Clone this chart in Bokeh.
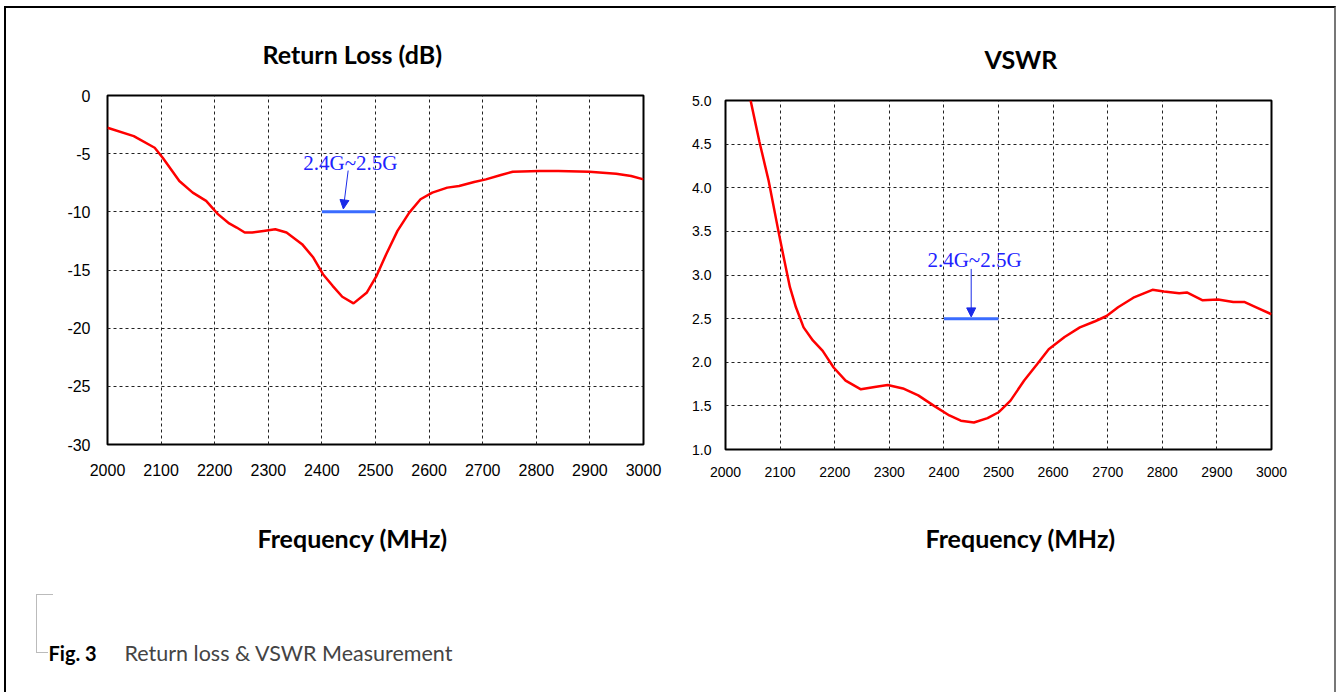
from bokeh.plotting import figure
from bokeh.layouts import row, column
from bokeh.models import Range1d, Title, Arrow, NormalHead, FixedTicker, PrintfTickFormatter
from bokeh.core.properties import value
from bokeh.embed import file_html
from bokeh.resources import INLINE

# ---------------- data ----------------
x_ticks = [2000, 2100, 2200, 2300, 2400, 2500, 2600, 2700, 2800, 2900, 3000]
rl_ticks = [0, -5, -10, -15, -20, -25, -30]
vswr_ticks = [1.0, 1.5, 2.0, 2.5, 3.0, 3.5, 4.0, 4.5, 5.0]

rl_freq = [2000, 2049, 2088, 2103, 2134, 2159, 2184, 2206, 2227, 2241, 2256, 2270, 2291,
           2313, 2334, 2363, 2384, 2402, 2420, 2438, 2459, 2484, 2502, 2520, 2541, 2563,
           2584, 2606, 2634, 2656, 2684, 2706, 2734, 2756, 2806, 2841, 2899, 2949, 2977, 3000]
rl_db = [-2.77, -3.49, -4.49, -5.35, -7.35, -8.35, -9.06, -10.2, -11.0, -11.35, -11.78, -11.78, -11.64,
         -11.5, -11.78, -12.78, -13.93, -15.36, -16.36, -17.3, -17.87, -16.93, -15.5, -13.64, -11.64, -10.07,
         -8.92, -8.35, -7.92, -7.78, -7.43, -7.21, -6.83, -6.55, -6.49, -6.49, -6.55, -6.72, -6.92, -7.21]

vswr_freq = [2046, 2062, 2079, 2097, 2108, 2118, 2129, 2143, 2160, 2178, 2198, 2220, 2248, 2276,
             2297, 2325, 2353, 2382, 2410, 2431, 2455, 2480, 2501, 2522, 2547, 2571, 2592, 2621,
             2649, 2677, 2698, 2719, 2747, 2782, 2803, 2831, 2845, 2874, 2902, 2930, 2951, 2972, 3000]
vswr_val = [5.0, 4.53, 4.08, 3.5, 3.16, 2.86, 2.63, 2.40, 2.25, 2.13, 1.94, 1.79, 1.69, 1.72,
            1.74, 1.70, 1.62, 1.50, 1.39, 1.33, 1.31, 1.36, 1.43, 1.56, 1.79, 1.98, 2.15, 2.29,
            2.40, 2.47, 2.53, 2.63, 2.74, 2.83, 2.81, 2.79, 2.80, 2.71, 2.72, 2.69, 2.69, 2.63, 2.55]

band = [2400, 2500]
band_label = "2.4G~2.5G"
rl_band_level = -10
vswr_band_level = 2.5

TITLE_FONT = "Lato"
TICK_FONT = "Liberation Sans"
SERIF = "Liberation Serif"


def style_plot(p, tick_size, ystand, xstand):
    p.background_fill_color = "white"
    p.border_fill_color = "white"
    p.outline_line_color = "black"
    p.outline_line_width = 2
    for ax in (p.xaxis[0], p.yaxis[0]):
        ax.axis_line_color = None
        ax.major_tick_line_color = None
        ax.minor_tick_line_color = None
        ax.major_tick_out = 0
        ax.major_tick_in = 0
        ax.minor_tick_out = 0
        ax.minor_tick_in = 0
        ax.major_label_text_font = TICK_FONT
        ax.major_label_text_font_size = tick_size
        ax.major_label_text_color = "black"
    p.yaxis[0].major_label_standoff = ystand
    p.xaxis[0].major_label_standoff = xstand
    for g in (p.xgrid[0], p.ygrid[0]):
        g.grid_line_color = "#222222"
        g.grid_line_dash = "3 3"
        g.grid_line_width = 1
    p.xaxis[0].ticker = FixedTicker(ticks=x_ticks)


def add_titles(p, top_text, top_offset, top_standoff, bottom_offset, bottom_standoff):
    p.title = Title(text=top_text, align="left", offset=top_offset, standoff=top_standoff,
                    text_font=TITLE_FONT, text_font_size="25px", text_font_style="bold",
                    text_color="black")
    p.add_layout(Title(text="Frequency (MHz)", align="left", offset=bottom_offset,
                       standoff=bottom_standoff, text_font=TITLE_FONT, text_font_size="25px",
                       text_font_style="bold", text_color="black"), "below")


# ---------------- Return loss ----------------
p1 = figure(width=674, height=592, x_range=Range1d(2000, 3000), y_range=Range1d(-30, 0),
            output_backend="svg", toolbar_location=None,
            min_border_left=101, min_border_right=37, min_border_top=87, min_border_bottom=156)
style_plot(p1, "16px", 17, 19)
p1.yaxis[0].ticker = FixedTicker(ticks=rl_ticks)
p1.yaxis[0].formatter = PrintfTickFormatter(format="%d")
add_titles(p1, "Return Loss (dB)", 155, 53, 150, 84)

p1.line(rl_freq, rl_db, line_color="#ff0000", line_width=2.5)
p1.line(band, [rl_band_level, rl_band_level], line_color="#3a6cff", line_width=3)
p1.add_layout(Arrow(end=NormalHead(size=9, fill_color="#1a2ae8", line_color="#1a2ae8"),
                    x_start=2449, y_start=-6.45, x_end=2440, y_end=-9.75,
                    line_color="#1a2ae8", line_width=1))
p1.text(x=[2453], y=[-5.8], text=[band_label], text_font=value(SERIF), text_font_size="21px",
        text_color="#2222ff", text_align="center", text_baseline="middle")

# ---------------- VSWR ----------------
p2 = figure(width=654, height=592, x_range=Range1d(2000, 3000), y_range=Range1d(1.0, 5.0),
            output_backend="svg", toolbar_location=None,
            min_border_left=45, min_border_right=63, min_border_top=87, min_border_bottom=156,
            styles={"margin-top": "5px"})
style_plot(p2, "14px", 14, 17)
p2.yaxis[0].ticker = FixedTicker(ticks=vswr_ticks)
p2.yaxis[0].formatter = PrintfTickFormatter(format="%.1f")
add_titles(p2, "VSWR", 259, 54, 200, 82)

p2.line(vswr_freq, vswr_val, line_color="#ff0000", line_width=2.5)
p2.line(band, [vswr_band_level, vswr_band_level], line_color="#3a6cff", line_width=3)
p2.add_layout(Arrow(end=NormalHead(size=9, fill_color="#1a2ae8", line_color="#1a2ae8"),
                    x_start=2450, y_start=3.07, x_end=2450, y_end=2.52,
                    line_color="#1a2ae8", line_width=1))
p2.text(x=[2456], y=[3.17], text=[band_label], text_font=value(SERIF), text_font_size="21px",
        text_color="#2222ff", text_align="center", text_baseline="middle")

# ---------------- caption ----------------
p3 = figure(width=1328, height=100, x_range=Range1d(0, 1328), y_range=Range1d(100, 0),
            output_backend="svg", toolbar_location=None, x_axis_type=None, y_axis_type=None,
            min_border=0, styles={"margin-top": "-20px"})
p3.outline_line_color = None
p3.background_fill_color = None
p3.border_fill_color = None
p3.line([46, 30, 30, 42], [9, 9, 67, 67], line_color="#777777", line_width=1, line_dash="1 1")
p3.text(x=[42], y=[67], text=["Fig. 3"], text_font=value(TITLE_FONT), text_font_style="bold",
        text_font_size="20px", text_color="black", text_baseline="middle")
p3.text(x=[118], y=[67], text=["Return loss & VSWR Measurement"], text_font=value(TITLE_FONT),
        text_font_size="21.5px", text_color="#444444", text_baseline="middle")

layout = column(row(p1, p2), p3,
                styles={"margin-left": "4px", "margin-top": "6px", "padding-bottom": "7px",
                        "border-top": "2px solid black", "border-left": "2px solid black",
                        "border-right": "2px solid #777777"})

open("out.html", "w").write(file_html(layout, INLINE))
